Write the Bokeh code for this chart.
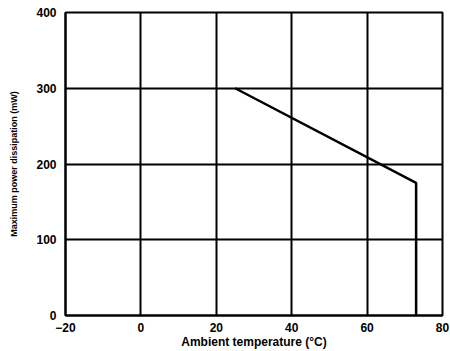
from bokeh.plotting import figure
from bokeh.models import Range1d, FixedTicker
from bokeh.embed import file_html
from bokeh.resources import INLINE

# Derating curve data
temp_c = [25, 73, 73]
power_mw = [300, 175, 0]

x_ticks = [-20, 0, 20, 40, 60, 80]
y_ticks = [0, 100, 200, 300, 400]

p = figure(width=450, height=351, output_backend="svg", toolbar_location=None,
           x_range=Range1d(-20, 80), y_range=Range1d(0, 400),
           min_border_left=65, min_border_right=8, min_border_top=12, min_border_bottom=33)

p.line(temp_c, power_mw, line_color="black", line_width=2.5)

p.xaxis.ticker = FixedTicker(ticks=x_ticks)
p.yaxis.ticker = FixedTicker(ticks=y_ticks)
for ax in (p.xaxis[0], p.yaxis[0]):
    ax.axis_line_width = 2
    ax.axis_line_color = "black"
    ax.major_tick_line_color = None
    ax.minor_tick_line_color = None
    ax.major_label_text_font = "Liberation Sans"
    ax.major_label_text_font_style = "bold"
    ax.major_label_text_font_size = "12px"
    ax.major_label_text_color = "black"
    ax.axis_label_text_font = "Liberation Sans"
    ax.axis_label_text_font_style = "bold"
    ax.axis_label_text_color = "black"

p.xaxis.axis_label = "Ambient temperature (°C)"
p.yaxis.axis_label = "Maximum power dissipation (mW)"
p.xaxis.axis_label_text_font_size = "12px"
p.yaxis.axis_label_text_font_size = "9px"
p.xaxis.major_label_standoff = 1
p.xaxis.axis_label_standoff = 0
p.yaxis.major_label_standoff = 3
p.yaxis.axis_label_standoff = 14

p.xgrid.ticker = FixedTicker(ticks=x_ticks)
p.ygrid.ticker = FixedTicker(ticks=y_ticks)
p.grid.grid_line_color = "black"
p.grid.grid_line_width = 2
p.grid.grid_line_alpha = 1.0

p.outline_line_color = "black"
p.outline_line_width = 2
p.outline_line_alpha = 1.0

open("out.html", "w").write(file_html(p, INLINE))
